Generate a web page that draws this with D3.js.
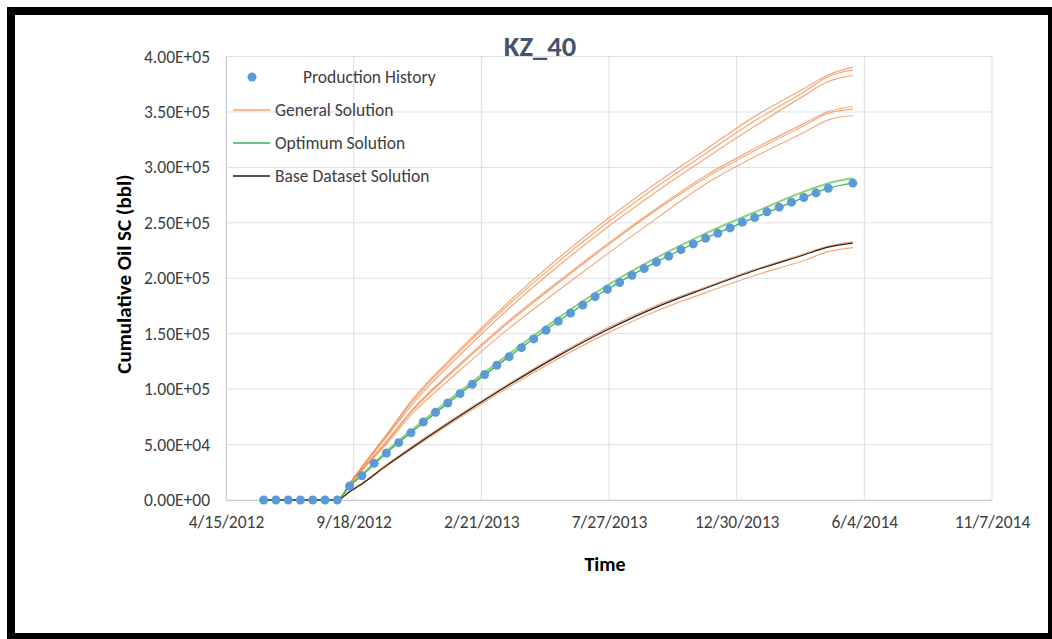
<!DOCTYPE html>
<html>
<head>
<meta charset="utf-8">
<script src="https://cdn.jsdelivr.net/npm/d3@7"></script>
<style>
  body { margin: 0; background: #fff; }
  text { font-family: Carlito, Calibri, Lato, sans-serif; }
</style>
</head>
<body>
<div class="canvas"></div>
<script>
/*--------------------------------
  DATA
--------------------------------*/
const historyDates = [
  '2012-05-31', '2012-06-15', '2012-06-30', '2012-07-15', '2012-07-30', '2012-08-14', '2012-08-29',
  '2012-09-13', '2012-09-28', '2012-10-13', '2012-10-28', '2012-11-12', '2012-11-27', '2012-12-12',
  '2012-12-27', '2013-01-11', '2013-01-26', '2013-02-10', '2013-02-25', '2013-03-12', '2013-03-27',
  '2013-04-11', '2013-04-26', '2013-05-11', '2013-05-26', '2013-06-10', '2013-06-25', '2013-07-10',
  '2013-07-25', '2013-08-09', '2013-08-24', '2013-09-08', '2013-09-23', '2013-10-08', '2013-10-23',
  '2013-11-07', '2013-11-22', '2013-12-07', '2013-12-22', '2014-01-06', '2014-01-21', '2014-02-05',
  '2014-02-20', '2014-03-07', '2014-03-22', '2014-04-06', '2014-04-21', '2014-05-21',
];
const historyValues = [
  0, 0, 0, 0, 0, 0, 0,
  12600, 21900, 33100, 42400, 51700, 60700, 70400, 79100, 87500, 95900,
  104400, 113100, 121500, 129300, 137400, 145300, 153100, 161200, 168700, 175900,
  183400, 190100, 196100, 202700, 208700, 214700, 219900, 225800, 231000, 236100,
  240600, 245400, 250600, 254700, 259900, 264100, 268600, 272800, 277000, 281200,
  285800,
];

// simulation output dates
const simDates = [
  '2012-05-31', '2012-08-29', '2012-09-13', '2012-09-28', '2012-10-28', '2012-11-27',
  '2013-01-26', '2013-03-27', '2013-05-26', '2013-07-25', '2013-09-23', '2013-11-22',
  '2014-01-21', '2014-03-22', '2014-04-21', '2014-05-21',
];
const generalRuns = [
  [0, 0, 15000, 30000, 59000, 89000, 136000, 179000, 218000, 253500, 286000, 316000, 346000, 371000, 383500, 390400],
  [0, 0, 15000, 29500, 58000, 87500, 134000, 176500, 215000, 250000, 282500, 312500, 342000, 368000, 382000, 388000],
  [0, 0, 14500, 29000, 56500, 85000, 131000, 173000, 211000, 246000, 278000, 308000, 337000, 364500, 377400, 382900],
  [0, 0, 14000, 27500, 53000, 80000, 123000, 162000, 197000, 231000, 263000, 292500, 317000, 339500, 350400, 354900],
  [0, 0, 14000, 27000, 52000, 79000, 121500, 160500, 195500, 229500, 261500, 290500, 315000, 337500, 348900, 352500],
  [0, 0, 13500, 26500, 50500, 76500, 117000, 155000, 189000, 222000, 254000, 285000, 309500, 331500, 342900, 346800],
  [0, 0, 8000, 15000, 32000, 47500, 77000, 105000, 131500, 155000, 175500, 192000, 208000, 222000, 229000, 232800],
  [0, 0, 7500, 14500, 30500, 45500, 74500, 102000, 127500, 150500, 170500, 187000, 202500, 216000, 224000, 227600],
];
const optimumRuns = [
  [0, 0, 13000, 22800, 43800, 62500, 98000, 131800, 164000, 193500, 218500, 240500, 259500, 278000, 285700, 290200],
  [0, 0, 12600, 21900, 42400, 60700, 95900, 129300, 161200, 190100, 214700, 236100, 254700, 272800, 281200, 285800],
];
const baseRun = [0, 0, 7500, 14500, 31000, 46500, 76000, 104000, 130000, 153500, 174000, 191000, 207000, 221000, 228000, 231600];

const xTicks = ['2012-04-15', '2012-09-18', '2013-02-21', '2013-07-27', '2013-12-30', '2014-06-04', '2014-11-07'];
const yTicks = [0, 50000, 100000, 150000, 200000, 250000, 300000, 350000, 400000];

const legendItems = [
  { name: 'Production History', type: 'dot', color: '#5B9BD5' },
  { name: 'General Solution', type: 'line', color: '#F4A36E' },
  { name: 'Optimum Solution', type: 'line', color: '#3DB05C' },
  { name: 'Base Dataset Solution', type: 'line', color: '#1a1a1a' },
];

/*--------------------------------
  SETUP
--------------------------------*/
const width = 1052;
const height = 639;
const parse = d3.utcParse('%Y-%m-%d');

const svg = d3.select('.canvas')
  .append('svg')
  .attr('width', width)
  .attr('height', height);

// picture frame
svg.append('rect').attr('x', 7).attr('y', 7).attr('width', width - 7).attr('height', height - 7).attr('fill', '#000');
svg.append('rect').attr('x', 15).attr('y', 15).attr('width', 1033).attr('height', 618).attr('fill', '#fff');

const plot = { left: 226, right: 992, top: 56.5, bottom: 500 };

const x = d3.scaleUtc()
  .domain([parse(xTicks[0]), parse(xTicks[xTicks.length - 1])])
  .range([plot.left, plot.right]);
const y = d3.scaleLinear()
  .domain([0, 400000])
  .range([plot.bottom, plot.top]);

const sci = (d) => {
  const [m, e] = d.toExponential(2).split('e');
  return `${m}E${e[0]}${e.slice(1).padStart(2, '0')}`;
};
const dateFmt = d => `${d.getUTCMonth() + 1}/${d.getUTCDate()}/${d.getUTCFullYear()}`;

// gridlines
const grid = svg.append('g');
grid.selectAll('.hg').data(yTicks).enter().append('line')
  .attr('x1', plot.left).attr('x2', plot.right)
  .attr('y1', d => y(d)).attr('y2', d => y(d))
  .attr('stroke', '#DDDFE3').attr('stroke-width', 1);
grid.selectAll('.vg').data(xTicks).enter().append('line')
  .attr('x1', d => x(parse(d))).attr('x2', d => x(parse(d)))
  .attr('y1', plot.top).attr('y2', plot.bottom)
  .attr('stroke', '#DDDFE3').attr('stroke-width', 1);

// axes
const xAxis = d3.axisBottom(x)
  .tickValues(xTicks.map(parse))
  .tickFormat(dateFmt)
  .tickSize(0)
  .tickPadding(16);
const yAxis = d3.axisLeft(y)
  .tickValues(yTicks)
  .tickFormat(sci)
  .tickSize(0)
  .tickPadding(16);

const xAxisGroup = svg.append('g').attr('transform', `translate(0, ${plot.bottom})`).call(xAxis);
const yAxisGroup = svg.append('g').attr('transform', `translate(${plot.left}, 0)`).call(yAxis);

[xAxisGroup, yAxisGroup].forEach((g) => {
  g.select('.domain').attr('stroke', '#C9CFDA');
  g.selectAll('text').attr('fill', '#404040').style('font-size', '17.5px');
});

// titles
svg.append('text')
  .attr('x', 540).attr('y', 56)
  .attr('text-anchor', 'middle')
  .attr('fill', '#44546A')
  .style('font-size', '28.5px').style('font-weight', 'bold')
  .text('KZ_40');
svg.append('text')
  .attr('x', 605).attr('y', 571)
  .attr('text-anchor', 'middle')
  .style('font-size', '20px').style('font-weight', 'bold')
  .text('Time');
svg.append('text')
  .attr('transform', 'translate(131, 274) rotate(-90)')
  .attr('text-anchor', 'middle')
  .style('font-size', '21px').style('font-weight', 'bold')
  .text('Cumulative Oil SC (bbl)');

/*--------------------------------
  SERIES
--------------------------------*/
const line = d3.line()
  .x(d => x(d.date))
  .y(d => y(d.value))
  .curve(d3.curveMonotoneX);

const toPoints = vals => vals.map((v, i) => ({ date: parse(simDates[i]), value: v }));

const lines = svg.append('g').attr('fill', 'none');

generalRuns.forEach((run) => {
  lines.append('path')
    .attr('d', line(toPoints(run)))
    .attr('stroke', '#F28C4E')
    .attr('stroke-opacity', 0.75)
    .attr('stroke-width', 1.2);
});

optimumRuns.forEach((run, i) => {
  lines.append('path')
    .attr('d', line(toPoints(run)))
    .attr('stroke', i === 0 ? '#8ED27F' : '#3DB05C')
    .attr('stroke-width', i === 0 ? 2 : 1.3);
});

lines.append('path')
  .attr('d', line(toPoints(baseRun)))
  .attr('stroke', '#222')
  .attr('stroke-width', 1.2);

svg.append('g').selectAll('circle')
  .data(historyValues.map((v, i) => ({ date: parse(historyDates[i]), value: v })))
  .enter()
  .append('circle')
  .attr('cx', d => x(d.date))
  .attr('cy', d => y(d.value))
  .attr('r', 4.5)
  .attr('fill', '#5B9BD5');

/*--------------------------------
  LEGEND
--------------------------------*/
const legend = svg.append('g');
legendItems.forEach((item, i) => {
  const ly = 77 + i * 33;
  if (item.type === 'dot') {
    legend.append('circle').attr('cx', 252).attr('cy', ly).attr('r', 4.5).attr('fill', item.color);
  } else {
    legend.append('line')
      .attr('x1', 233).attr('x2', 270).attr('y1', ly).attr('y2', ly)
      .attr('stroke', item.color).attr('stroke-width', 1.3);
  }
  legend.append('text')
    .attr('x', item.type === 'dot' ? 303 : 275)
    .attr('y', ly + 6)
    .attr('fill', '#404040')
    .style('font-size', '17.5px')
    .text(item.name);
});
</script>
</body>
</html>
